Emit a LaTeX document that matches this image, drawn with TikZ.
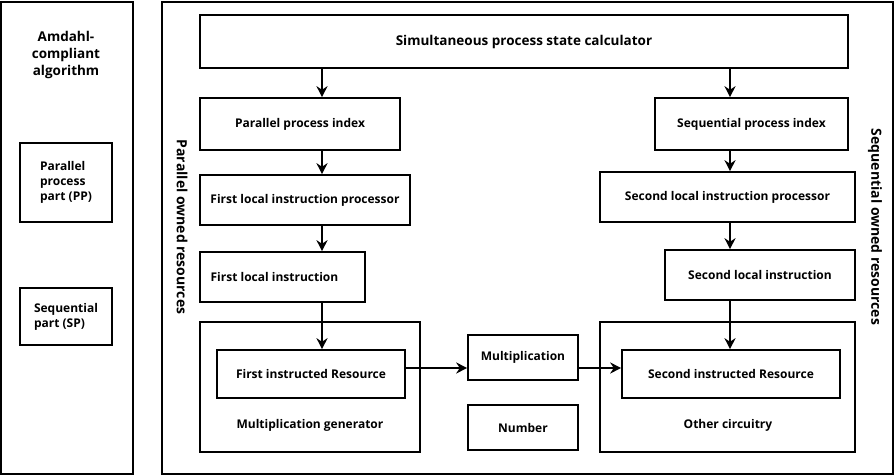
\documentclass[tikz,border=0pt]{standalone}
\usepackage{fontspec}
\setmainfont{Open Sans}
\usetikzlibrary{arrows.meta}
\begin{document}
\begin{tikzpicture}[x=1pt,y=-1pt,
  bx/.style={draw,line width=1.6pt,font=\bfseries\fontsize{12}{15}\selectfont,align=center,inner sep=0pt},
  ar/.style={-{Stealth[length=11pt,width=11pt]},line width=1.6pt}]
\useasboundingbox (0,0) rectangle (895,476);
\draw[line width=1.6pt] (1,2) rectangle (133,474);
\draw[line width=1.6pt] (162,2) rectangle (893,474);
\node[font=\bfseries\fontsize{13.5}{17}\selectfont,align=center] (amd) at (66,55) {Amdahl-\\compliant\\algorithm};
\newcommand\bxat[6]{\node[bx,minimum width=#4-#2,minimum height=#5-#3] (#1) at ({(#2+#4)/2},{(#3+#5)/2}) {#6};}
\bxat{pp}{20}{143}{112}{222}{\begin{tabular}{@{}l@{}}Parallel\\process\\part (PP)\end{tabular}}
\bxat{sp}{20}{288}{112}{345}{\begin{tabular}{@{}l@{}}Sequential\\part (SP)\end{tabular}}
\bxat{top}{200}{15}{848}{68}{\fontsize{13.5}{15}\selectfont Simultaneous process state calculator}
\bxat{ppi}{200}{98}{400}{150}{Parallel process index}
\bxat{flip}{200}{175}{410}{225}{First local instruction processor}
\bxat{fli}{200}{252}{365}{302}{\hspace*{-16pt}First local instruction}
\bxat{mg}{200}{322}{420}{452}{}
\node[font=\bfseries\fontsize{12}{14}\selectfont] (mgl) at (310,425) {Multiplication generator};
\bxat{fir}{217}{350}{405}{398}{First instructed Resource}
\bxat{mul}{468}{335}{578}{380}{Multiplication}
\bxat{num}{468}{405}{578}{450}{Number}
\bxat{oc}{600}{322}{855}{452}{}
\node[font=\bfseries\fontsize{12}{14}\selectfont] (ocl) at (728,425) {Other circuitry};
\bxat{sir}{622}{350}{840}{398}{Second instructed Resource}
\bxat{spi}{655}{98}{848}{150}{Sequential process index}
\bxat{slip}{600}{172}{855}{222}{Second local instruction processor}
\bxat{sli}{665}{250}{855}{300}{Second local instruction}
\node[font=\bfseries\fontsize{14}{16}\selectfont,rotate=-90] (por) at (182,227) {Parallel owned resources};
\node[font=\bfseries\fontsize{14}{16}\selectfont,rotate=-90] (sor) at (875,227) {Sequential owned resources};
\coordinate (a1) at (322,68); \coordinate (a2) at (730,68);
\draw[ar] (a1) -- (a1 |- ppi.north);
\draw[ar] (a2) -- (a2 |- spi.north);
\draw[ar] (a1 |- ppi.south) -- (a1 |- flip.north);
\draw[ar] (a1 |- flip.south) -- (a1 |- fli.north);
\draw[ar] (a1 |- fli.south) -- (a1 |- fir.north);
\draw[ar] (a2 |- spi.south) -- (a2 |- slip.north);
\draw[ar] (a2 |- slip.south) -- (a2 |- sli.north);
\draw[ar] (a2 |- sli.south) -- (a2 |- sir.north);
\coordinate (h) at (0,368);
\draw[ar] (h -| fir.east) -- (h -| mul.west);
\draw[ar] (h -| mul.east) -- (h -| sir.west);
\end{tikzpicture}
\end{document}
